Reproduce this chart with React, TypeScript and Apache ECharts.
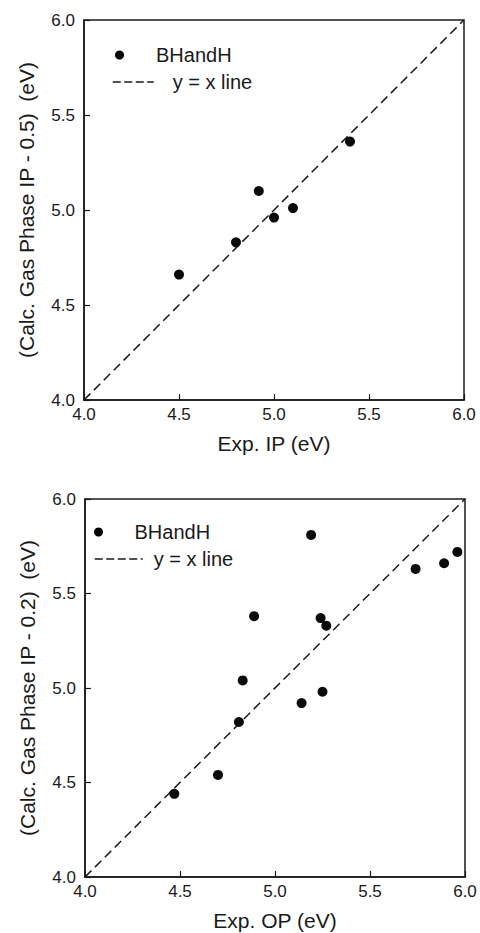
import React, { useEffect, useRef } from "react";
import * as echarts from "echarts";

const ipExp = [4.5, 4.8, 4.92, 5.0, 5.1, 5.4];
const ipCalc = [4.66, 4.83, 5.1, 4.96, 5.01, 5.36];
const opExp = [4.47, 4.7, 4.81, 4.83, 4.89, 5.14, 5.19, 5.24, 5.25, 5.27, 5.74, 5.89, 5.96];
const opCalc = [4.44, 4.54, 4.82, 5.04, 5.38, 4.92, 5.81, 5.37, 4.98, 5.33, 5.63, 5.66, 5.72];
const axisMin = 4.0;
const axisMax = 6.0;
const tickStep = 0.5;
const identityX = [4.0, 6.0];
const xNames = ["Exp. IP (eV)", "Exp. OP (eV)"];
const yNames = ["(Calc. Gas Phase IP - 0.5)  (eV)", "(Calc. Gas Phase IP - 0.2)  (eV)"];
const scatterName = "BHandH";
const lineName = "y = x line";

const FONT = "Liberation Sans, Arial, Helvetica, sans-serif";
const INK = "#1a1a1a";

function axisBase(gridIndex: number, name: string, isY: boolean) {
  return {
    type: "value",
    gridIndex,
    min: axisMin,
    max: axisMax,
    interval: tickStep,
    name,
    nameLocation: "middle",
    nameGap: isY ? 47 : 33,
    nameTextStyle: { fontFamily: FONT, fontSize: 21, color: INK },
    axisLine: { show: true, lineStyle: { color: INK, width: 1.5 } },
    axisTick: { show: true, inside: true, length: 6, lineStyle: { color: INK, width: 1.2 } },
    axisLabel: {
      fontFamily: FONT,
      fontSize: 17,
      color: INK,
      margin: isY ? 9 : 6,
      formatter: (v: number) => v.toFixed(1),
    },
    splitLine: { show: false },
  };
}

export default function App() {
  const ref = useRef<HTMLDivElement>(null);
  useEffect(() => {
    if (!ref.current) return;
    const chart = echarts.init(ref.current, null, { renderer: "svg" });
    const ipPts = ipExp.map((x, i) => [x, ipCalc[i]]);
    const opPts = opExp.map((x, i) => [x, opCalc[i]]);
    const idPts = identityX.map((v) => [v, v]);
    const legendText = { fontFamily: FONT, fontSize: 20, color: INK };
    const lineLegendCommon = {
      orient: "vertical",
      padding: 0,
      itemHeight: 14,
      selectedMode: false,
      itemStyle: { opacity: 0 },
      lineStyle: { color: INK, width: 1.5, type: [8, 3.5] },
    };
    const idLine = { color: INK, width: 1.5, type: [9, 5] };
    chart.setOption({
      animation: false,
      grid: [
        { left: 84, top: 20, width: 380, height: 380, show: true, borderColor: INK, borderWidth: 1.5, backgroundColor: "transparent" },
        { left: 85, top: 499, width: 380, height: 378, show: true, borderColor: INK, borderWidth: 1.5, backgroundColor: "transparent" },
      ],
      xAxis: [axisBase(0, xNames[0], false), axisBase(1, xNames[1], false)],
      yAxis: [axisBase(0, yNames[0], true), axisBase(1, yNames[1], true)],
      legend: [
        { data: [scatterName], orient: "vertical", left: 115, top: 45, padding: 0, itemWidth: 41, itemHeight: 9, itemStyle: { color: "#000" }, textStyle: { ...legendText, padding: [0, 0, 0, 11] }, selectedMode: false },
        { ...lineLegendCommon, data: [lineName], left: 112, top: 72, itemWidth: 41, textStyle: { ...legendText, padding: [0, 0, 0, 14] } },
        { data: [scatterName], orient: "vertical", left: 94, top: 522, padding: 0, itemWidth: 46, itemHeight: 9, itemStyle: { color: "#000" }, textStyle: { ...legendText, padding: [0, 0, 0, 8] }, selectedMode: false },
        { ...lineLegendCommon, data: [lineName], left: 94, top: 549, itemWidth: 48, textStyle: { ...legendText, padding: [0, 0, 0, 6] } },
      ],
      series: [
        {
          name: lineName, type: "line", xAxisIndex: 0, yAxisIndex: 0, data: idPts,
          symbol: "none", itemStyle: { color: INK }, lineStyle: idLine, z: 2,
        },
        {
          name: scatterName, type: "scatter", xAxisIndex: 0, yAxisIndex: 0, data: ipPts,
          symbol: "circle", symbolSize: 10, itemStyle: { color: "#0a0a0a", opacity: 1 }, z: 3,
        },
        {
          name: lineName, type: "line", xAxisIndex: 1, yAxisIndex: 1, data: idPts,
          symbol: "none", itemStyle: { color: INK }, lineStyle: idLine, z: 2,
        },
        {
          name: scatterName, type: "scatter", xAxisIndex: 1, yAxisIndex: 1, data: opPts,
          symbol: "circle", symbolSize: 10, itemStyle: { color: "#0a0a0a", opacity: 1 }, z: 3,
        },
      ],
    });
    return () => chart.dispose();
  }, []);
  return (
    <div
      ref={ref}
      style={{ position: "absolute", left: 0, top: 0, width: 480, height: 933, background: "#fff" }}
    />
  );
}
